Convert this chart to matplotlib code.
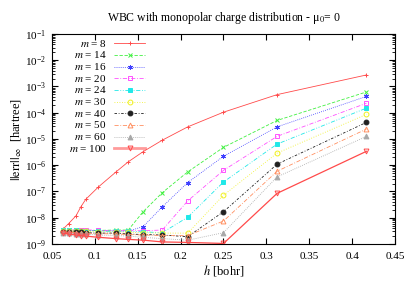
import matplotlib
matplotlib.use("Agg")
import matplotlib.pyplot as plt
from matplotlib.ticker import LogLocator, NullFormatter, FixedLocator, FuncFormatter

plt.rcParams['font.family'] = ['Liberation Serif', 'DejaVu Serif']
plt.rcParams['mathtext.fontset'] = 'stix'

# grid spacings h [bohr]
h = [0.0625, 0.0694, 0.0781, 0.0833, 0.0893, 0.1042, 0.125, 0.1389,
     0.1563, 0.1786, 0.2083, 0.25, 0.3125, 0.4167]

x_ticks = [0.05, 0.1, 0.15, 0.2, 0.25, 0.3, 0.35, 0.4, 0.45]

labels = ['8', '14', '16', '20', '24', '30', '40', '50', '60', '100']

err_m8 = [3.6e-9, 6.0e-9, 1.2e-8, 2.5e-8, 5.0e-8, 1.5e-7, 5.7e-7, 1.35e-6,
          3.3e-6, 9.0e-6, 2.9e-5, 1.05e-4, 4.9e-4, 2.75e-3]
err_m14 = [3.3e-9, 3.4e-9, 3.3e-9, 3.3e-9, 3.2e-9, 3.3e-9, 3.4e-9, 3.4e-9,
           1.7e-8, 9.0e-8, 5.6e-7, 4.8e-6, 5.1e-5, 6.2e-4]
err_m16 = [3.2e-9, 3.3e-9, 3.3e-9, 3.4e-9, 3.3e-9, 3.2e-9, 3.2e-9, 3.1e-9,
           4.6e-9, 2.6e-8, 2.2e-7, 2.2e-6, 2.9e-5, 4.2e-4]
err_m20 = [3.2e-9, 3.3e-9, 3.5e-9, 3.5e-9, 3.5e-9, 3.3e-9, 3.2e-9, 3.2e-9,
           3.2e-9, 3.4e-9, 4.4e-8, 6.4e-7, 1.26e-5, 2.3e-4]
err_m24 = [3.4e-9, 3.3e-9, 3.3e-9, 3.2e-9, 3.2e-9, 3.1e-9, 3.0e-9, 3.0e-9,
           2.9e-9, 2.7e-9, 1.05e-8, 2.3e-7, 6.4e-6, 1.5e-4]
err_m30 = [3.1e-9, 3.1e-9, 3.1e-9, 3.0e-9, 3.0e-9, 2.9e-9, 2.9e-9, 2.8e-9,
           2.7e-9, 2.6e-9, 2.6e-9, 7.2e-8, 2.9e-6, 8.7e-5]
err_m40 = [2.9e-9, 2.9e-9, 2.9e-9, 2.8e-9, 2.7e-9, 2.6e-9, 2.6e-9, 2.4e-9,
           2.3e-9, 2.2e-9, 1.9e-9, 1.7e-8, 1.1e-6, 4.3e-5]
err_m50 = [2.8e-9, 2.8e-9, 2.7e-9, 2.6e-9, 2.6e-9, 2.5e-9, 2.4e-9, 2.3e-9,
           2.2e-9, 2.1e-9, 2.1e-9, 7.5e-9, 5.9e-7, 2.4e-5]
err_m60 = [2.7e-9, 2.6e-9, 2.5e-9, 2.4e-9, 2.4e-9, 2.2e-9, 2.1e-9, 2.0e-9,
           1.8e-9, 1.6e-9, 1.4e-9, 2.7e-9, 3.6e-7, 1.26e-5]
err_m100 = [2.6e-9, 2.4e-9, 2.2e-9, 2.1e-9, 2.0e-9, 1.8e-9, 1.6e-9, 1.5e-9,
            1.4e-9, 1.2e-9, 1.15e-9, 1.05e-9, 8.5e-8, 3.4e-6]

series = [err_m8, err_m14, err_m16, err_m20, err_m24, err_m30,
          err_m40, err_m50, err_m60, err_m100]

# gnuplot-like styles: color, dashes, marker, filled
styles = [
    ('#ff4a4a', None, '+', True),
    ('#40f040', (4, 2), 'x', True),
    ('#4040ff', (1, 1.5), (6, 2, 0), True),
    ('#ff50ff', (5, 2, 1, 2), 's', False),
    ('#20e8e8', (5, 2, 1, 2, 1, 2), 's', True),
    ('#f0f020', (1, 2), 'o', False),
    ('#202020', (3, 2, 1, 2), 'o', True),
    ('#ff8f60', (5, 2, 1, 2), '^', False),
    ('#a8a8a8', (1, 1.5), '^', True),
    ('#ff4a4a', None, 'v', False),
]

fig = plt.figure(figsize=(4.15, 2.91), dpi=100)
ax = fig.add_axes([0.1253, 0.1615, 0.8265, 0.7217])

for i, (vals, (col, dash, mk, filled)) in enumerate(zip(series, styles)):
    lw = 0.9 if i == 9 else 0.6
    line, = ax.plot(h, vals, color=col, lw=lw, marker=mk, ms=3.5,
                    mew=0.7, mfc=col if filled else 'none', mec=col)
    if dash is not None:
        line.set_dashes(dash)

    # gnuplot style key: right-aligned label, then sample line
    ky = (244 - (43.3 + 11.67 * i)) / 210.0
    ax.text(0.160, ky, r'$m$ = ' + labels[i], transform=ax.transAxes,
            ha='right', va='center', fontsize=8)
    kl, = ax.plot([0.181, 0.271], [ky, ky], transform=ax.transAxes,
                  color=col, lw=2.0 if i == 9 else 0.6, alpha=0.55 if i == 9 else 1.0)
    if dash is not None:
        kl.set_dashes(dash)
    ax.plot([0.226], [ky], transform=ax.transAxes, marker=mk, ms=3.5,
            mew=0.7, color=col, mfc=col if filled else 'none', mec=col)

ax.set_yscale('log')
ax.set_xlim(0.05, 0.45)
ax.set_ylim(1e-9, 1e-1)
ax.xaxis.set_major_locator(FixedLocator(x_ticks))
ax.xaxis.set_major_formatter(FuncFormatter(lambda v, p: '%g' % round(v, 2)))
ax.yaxis.set_major_locator(LogLocator(base=10, numticks=20))
ax.yaxis.set_minor_locator(LogLocator(base=10, subs=range(2, 10), numticks=20))
ax.yaxis.set_minor_formatter(NullFormatter())
ax.tick_params(which='both', direction='in', top=True, right=True, labelsize=8)
ax.tick_params(which='major', length=4)
ax.tick_params(which='minor', length=2)
ax.tick_params(axis='x', pad=6)
ax.tick_params(axis='y', pad=4)

ax.set_xlabel(r'$h$ [bohr]', fontsize=9, labelpad=1)
ax.set_ylabel(r'$||\mathrm{err}||_\infty$  [hartree]', fontsize=9, labelpad=1)
ax.set_title('WBC with monopolar charge distribution - μ$_0$= 0', fontsize=8.5, pad=9)

fig.savefig('out.png', dpi=100)
